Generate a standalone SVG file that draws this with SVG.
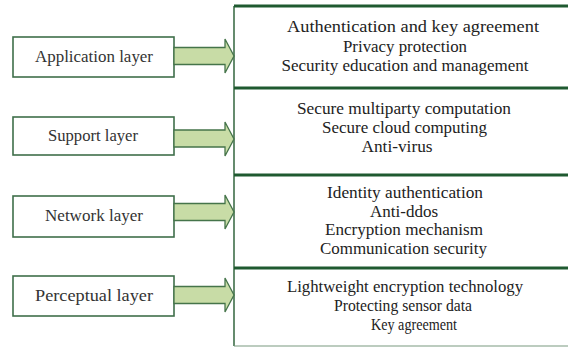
<svg xmlns="http://www.w3.org/2000/svg" width="568" height="347" viewBox="0 0 568 347">
<style>
.box{fill:#fff;stroke:#3f6f4a;stroke-width:1.6}
.arr{fill:#c8dca6;stroke:#45744a;stroke-width:1.3;stroke-linejoin:miter}
.lbl{font-family:"Liberation Serif","Times New Roman",serif;font-size:16px;fill:#333;text-anchor:middle}
.txt{font-family:"Liberation Serif","Times New Roman",serif;font-size:16px;fill:#222;text-anchor:middle}
.div{stroke:#1f5a30;stroke-width:3}
.edge{stroke:#3f6f4a;stroke-width:1.6;fill:none}
</style>
<rect width="568" height="347" fill="#fff"/>
<g id="panel">
<path class="edge" d="M234,6 V346"/>
<line class="div" x1="234" y1="6" x2="568" y2="6"/>
<line class="div" x1="234" y1="88" x2="568" y2="88"/>
<line class="div" x1="234" y1="175" x2="568" y2="175"/>
<line class="div" x1="234" y1="268" x2="568" y2="268"/>
<line x1="234" y1="346" x2="568" y2="346" stroke="#7a9a80" stroke-width="1.2"/>
</g>
<g id="sec-app">
<text class="txt" x="413" y="32" textLength="252" lengthAdjust="spacingAndGlyphs">Authentication and key agreement</text>
<text class="txt" x="405" y="51.5" textLength="124" lengthAdjust="spacingAndGlyphs">Privacy protection</text>
<text class="txt" x="405" y="71" textLength="247" lengthAdjust="spacingAndGlyphs">Security education and management</text>
</g>
<g id="sec-support">
<text class="txt" x="404" y="114" textLength="214" lengthAdjust="spacingAndGlyphs">Secure multiparty computation</text>
<text class="txt" x="404.5" y="133" textLength="165" lengthAdjust="spacingAndGlyphs">Secure cloud computing</text>
<text class="txt" x="397" y="152" textLength="71" lengthAdjust="spacingAndGlyphs">Anti-virus</text>
</g>
<g id="sec-network">
<text class="txt" x="405" y="198" textLength="156" lengthAdjust="spacingAndGlyphs">Identity authentication</text>
<text class="txt" x="404" y="216.5" textLength="68" lengthAdjust="spacingAndGlyphs">Anti-ddos</text>
<text class="txt" x="404" y="235" textLength="158" lengthAdjust="spacingAndGlyphs">Encryption mechanism</text>
<text class="txt" x="403.5" y="253.5" textLength="167" lengthAdjust="spacingAndGlyphs">Communication security</text>
</g>
<g id="sec-percep">
<text class="txt" x="405" y="292" textLength="236" lengthAdjust="spacingAndGlyphs">Lightweight encryption technology</text>
<text class="txt" x="403" y="311" textLength="138" lengthAdjust="spacingAndGlyphs">Protecting sensor data</text>
<text class="txt" x="414" y="329.5" textLength="86" lengthAdjust="spacingAndGlyphs">Key agreement</text>
</g>
<g id="application">
<rect class="box" x="13" y="37" width="161" height="40"/>
<text class="lbl" x="94" y="62" textLength="118" lengthAdjust="spacingAndGlyphs">Application layer</text>
</g>
<g id="support">
<rect class="box" x="13" y="117" width="161" height="38"/>
<text class="lbl" x="93" y="141" textLength="90" lengthAdjust="spacingAndGlyphs">Support layer</text>
</g>
<g id="network">
<rect class="box" x="13" y="196" width="161" height="41"/>
<text class="lbl" x="94" y="221" textLength="98" lengthAdjust="spacingAndGlyphs">Network layer</text>
</g>
<g id="perceptual">
<rect class="box" x="13" y="276" width="161" height="40"/>
<text class="lbl" x="94" y="301" textLength="118" lengthAdjust="spacingAndGlyphs">Perceptual  layer</text>
</g>
<g id="connectors">
<path class="arr" d="M174,47.5 H225 V39 L234,56 L225,73 V64.5 H174 Z"/>
<path class="arr" d="M174,130 H225 V122 L234,139 L225,156 V147 H174 Z"/>
<path class="arr" d="M174,203.5 H225 V195 L234,212 L225,229 V220.5 H174 Z"/>
<path class="arr" d="M174,286.5 H225 V278 L234,295 L225,312 V303.5 H174 Z"/>
</g>
</svg>
